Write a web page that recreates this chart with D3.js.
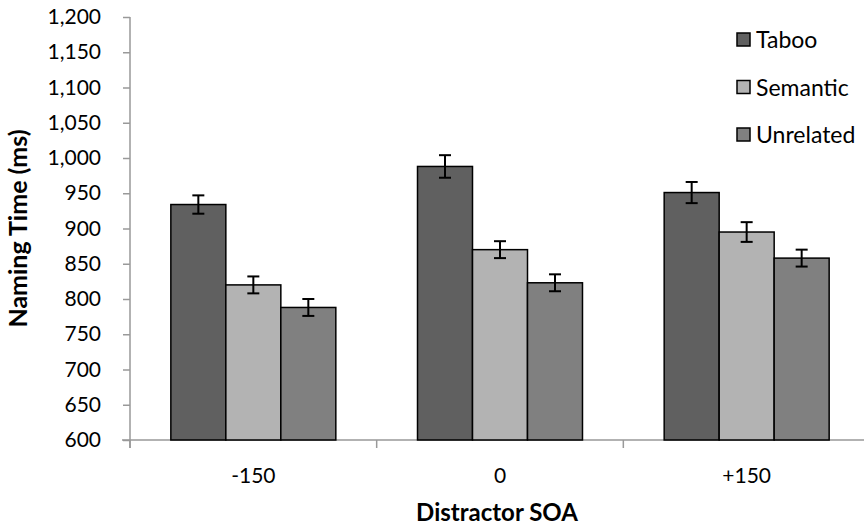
<!DOCTYPE html>
<html><head><meta charset="utf-8">
<script src="https://cdn.jsdelivr.net/npm/d3@7"></script>
<style>html,body{margin:0;padding:0;background:#fff;overflow:hidden}</style>
</head><body>
<svg id="chart" width="864" height="531"></svg>
<script>
const categories = ["-150", "0", "+150"];
const seriesNames = ["Taboo", "Semantic", "Unrelated"];
const taboo = [934, 988, 951];
const semantic = [820, 870, 895];
const unrelated = [788, 823, 858];
const tabooErr = [13, 16, 15];
const semanticErr = [12, 12, 14];
const unrelatedErr = [12, 12, 12];
const yTicks = [600, 650, 700, 750, 800, 850, 900, 950, 1000, 1050, 1100, 1150, 1200];
const colors = ["#606060", "#b3b3b3", "#808080"];

const values = [taboo, semantic, unrelated];
const errs = [tabooErr, semanticErr, unrelatedErr];

const svg = d3.select("#chart");
const font = "Lato, 'Open Sans', sans-serif";
const mLeft = 130, mRight = 870, mTop = 17, mBottom = 440;

const x0 = d3.scaleBand().domain(categories).range([mLeft, mRight]).paddingInner(0).paddingOuter(0);
const groupFrac = 165 / 246.7;
const x1 = d3.scaleBand().domain(seriesNames).range([0, x0.bandwidth() * groupFrac]);
const groupOffset = x0.bandwidth() * (1 - groupFrac) / 2;
const y = d3.scaleLinear().domain([600, 1200]).range([mBottom, mTop]);

// y axis
const yAxis = svg.append("g").attr("transform", `translate(${mLeft},0)`)
  .call(d3.axisLeft(y).tickValues(yTicks).tickSize(7).tickPadding(22).tickFormat(d3.format(",")));
yAxis.select(".domain").attr("stroke", "#999").attr("stroke-width", 1.5).attr("d", `M0,${mTop}V${mBottom + 8}`);
yAxis.selectAll(".tick line").attr("stroke", "#999").attr("stroke-width", 1.5);
yAxis.selectAll(".tick text").attr("font-family", font).attr("font-size", 21).attr("fill", "#000");

// x axis
const xAxis = svg.append("g").attr("transform", `translate(0,${mBottom})`);
xAxis.append("line").attr("x1", mLeft - 8).attr("x2", mRight).attr("y1", 0).attr("y2", 0)
  .attr("stroke", "#999").attr("stroke-width", 1.5);
const bounds = categories.map(c => x0(c)).concat([x0(categories[categories.length - 1]) + x0.bandwidth()]);
xAxis.selectAll(".xt").data(bounds).enter().append("line")
  .attr("x1", d => d).attr("x2", d => d).attr("y1", 0).attr("y2", 8)
  .attr("stroke", "#999").attr("stroke-width", 1.5);
xAxis.selectAll(".xl").data(categories).enter().append("text")
  .attr("x", d => x0(d) + x0.bandwidth() / 2).attr("y", 43)
  .attr("text-anchor", "middle").attr("font-family", font).attr("font-size", 21).text(d => d);

// bars
const groups = svg.selectAll(".grp").data(categories).enter().append("g")
  .attr("transform", d => `translate(${x0(d) + groupOffset},0)`);
groups.each(function (c, ci) {
  const g = d3.select(this);
  seriesNames.forEach((s, si) => {
    const v = values[si][ci], e = errs[si][ci];
    const bx = x1(s), bw = x1.bandwidth();
    g.append("rect").attr("x", bx).attr("y", y(v)).attr("width", bw).attr("height", y(600) - y(v))
      .attr("fill", colors[si]).attr("stroke", "#000").attr("stroke-width", 1.5);
    const cx = bx + bw / 2;
    g.append("line").attr("x1", cx).attr("x2", cx).attr("y1", y(v + e)).attr("y2", y(v - e))
      .attr("stroke", "#000").attr("stroke-width", 2);
    [v + e, v - e].forEach(t => g.append("line").attr("x1", cx - 6).attr("x2", cx + 6)
      .attr("y1", y(t)).attr("y2", y(t)).attr("stroke", "#000").attr("stroke-width", 2));
  });
});

// legend
const legend = svg.append("g");
seriesNames.forEach((s, i) => {
  const cy = 40 + i * 47.5;
  legend.append("rect").attr("x", 737).attr("y", cy - 7).attr("width", 13).attr("height", 13)
    .attr("fill", colors[i]).attr("stroke", "#000").attr("stroke-width", 1.5);
  legend.append("text").attr("x", 756).attr("y", cy).attr("dy", "0.35em")
    .attr("font-family", font).attr("font-size", 23).text(s);
});

// axis titles
svg.append("text").attr("transform", `translate(27,${(mTop + mBottom) / 2}) rotate(-90)`)
  .attr("text-anchor", "middle").attr("font-family", font).attr("font-weight", "bold")
  .attr("font-size", 25).text("Naming Time (ms)");
svg.append("text").attr("x", 497).attr("y", 521).attr("text-anchor", "middle")
  .attr("font-family", font).attr("font-weight", "bold").attr("font-size", 24).text("Distractor SOA");
</script>
</body></html>
